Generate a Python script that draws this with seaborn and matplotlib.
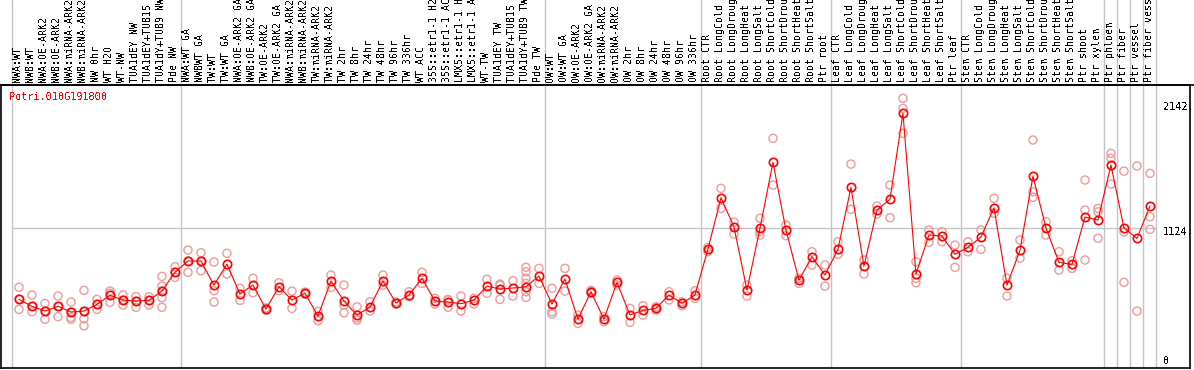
import numpy as np
import pandas as pd
import seaborn as sns
import matplotlib.pyplot as plt
from matplotlib.lines import Line2D

gene = "Potri.010G191800"

samples = [
    "NWA:WT", "NWB:WT", "NWA:OE-ARK2", "NWB:OE-ARK2", "NWA:miRNA-ARK2", "NWB:miRNA-ARK2",
    "NW 0hr", "WT H2O", "WT-NW", "TUA1dEY NW", "TUA1dEY+TUB15 NW", "TUA1dY+TUB9 NW", "Pde NW",
    "NWA:WT GA", "NWBWT GA", "TW:WT", "TW:WT GA", "NWA:OE-ARK2 GA", "NWB:OE-ARK2 GA",
    "TW:OE-ARK2", "TW:OE-ARK2 GA", "NWA:miRNA-ARK2", "NWB:miRNA-ARK2", "TW:miRNA-ARK2",
    "TW:miRNA-ARK2", "TW 2hr", "TW 8hr", "TW 24hr", "TW 48hr", "TW 96hr", "TW 336hr", "WT ACC",
    "35S::etr1-1 H2O", "35S::etr1-1 ACC", "LMX5::etr1-1 H2O", "LMX5::etr1-1 ACC", "WT-TW",
    "TUA1dEY TW", "TUA1dEY+TUB15 TW", "TUA1dY+TUB9 TW", "Pde TW",
    "OW:WT", "OW:WT GA", "OW:OE-ARK2", "OW:OE-ARK2 GA", "OW:miRNA-ARK2", "OW:miRNA-ARK2",
    "OW 2hr", "OW 8hr", "OW 24hr", "OW 48hr", "OW 96hr", "OW 336hr",
    "Root CTR", "Root LongCold", "Root LongDrought", "Root LongHeat", "Root LongSalt",
    "Root ShortCold", "Root ShortDrought", "Root ShortHeat", "Root ShortSalt", "Ptr root",
    "Leaf CTR", "Leaf LongCold", "Leaf LongDrought", "Leaf LongHeat", "Leaf LongSalt",
    "Leaf ShortCold", "Leaf ShortDrought", "Leaf ShortHeat", "Leaf ShortSalt", "Ptr leaf",
    "Stem CTR", "Stem LongCold", "Stem LongDrought", "Stem LongHeat", "Stem LongSalt",
    "Stem ShortCold", "Stem ShortDrought", "Stem ShortHeat", "Stem ShortSalt", "Ptr shoot",
    "Ptr xylem", "Ptr phloem", "Ptr fiber", "Ptr vessel", "Ptr fiber vessel",
]

means = [
    496, 434, 392, 434, 383, 392, 451, 531, 489, 480, 487, 569, 735,
    835, 835, 622, 808, 543, 622, 410, 607, 489, 551, 348, 658, 480, 357, 427,
    658, 463, 534, 682, 480, 472, 457, 489, 613, 587, 596, 607, 702,
    454, 675, 321, 563, 321, 646, 357, 398, 416, 534, 460, 534,
    941, 1395, 1138, 578, 1124, 1708, 1109, 666, 873, 711,
    938, 1487, 790, 1286, 1381, 2142, 720, 1065, 1056, 894,
    956, 1047, 1306, 622, 929, 1587, 1127, 823, 805, 1224, 1198,
    1684, 1127, 1035, 1321,
]

reps = [
    [602, 498, 407], [534, 434, 386], [460, 392, 319], [525, 434, 342],
    [472, 383, 336, 319], [575, 392, 324, 262], [496, 451, 407], [569, 549, 469],
    [534, 490, 445], [519, 480, 425], [519, 487, 445], [699, 613, 569, 510, 425],
    [784, 735, 690],
    [932, 835, 735], [908, 835, 749], [826, 572, 472], [903, 720], [593, 487],
    [682, 554], [420, 410, 400], [643, 572], [569, 416], [560, 540], [389, 306],
    [711, 602], [622, 445, 377], [430, 330, 312], [474, 392], [711, 622], [472, 454],
    [563, 519], [735, 637], [505, 454], [495, 490, 425], [525, 392], [505, 454],
    [673, 549], [631, 620, 496], [660, 525], [779, 740, 682, 637, 563, 513], [770, 637],
    [593, 386, 366], [770, 569], [357, 283], [575, 563, 550], [342, 297], [667, 622],
    [416, 292], [439, 357], [430, 401], [563, 490], [474, 439], [572, 505],
    [956, 917], [1478, 1301], [1180, 1074], [622, 525], [1213, 1095, 1065],
    [1921, 1507], [1153, 1059], [682, 637], [917, 799], [799, 613],
    [1006, 894], [1693, 1292], [844, 720], [1322, 1251], [1507, 1218],
    [2275, 2186, 1965], [829, 682, 643], [1109, 1000], [1094, 1006], [976, 779],
    [1006, 917], [1109, 938], [1390, 1257], [682, 525], [1021, 859],
    [1906, 1448, 1399], [1183, 1065], [917, 755], [837, 770], [1552, 1286, 844],
    [1300, 1270, 1036], [1788, 1744, 1516], [1631, 1094, 646], [1676, 392],
    [1611, 1227, 1115],
]

group_edges = [-0.5, 12.5, 40.5, 52.5, 62.5, 72.5, 83.5, 84.5, 85.5, 86.5, 87.5]
ref_level = 1124
tick_values = [2142, 1124, 0]
tick_texts = ["2142.", "1124.", "0"]
tick_shift = [6, -4, -6]

sns.set_style("white")
plt.rcParams["font.family"] = ["DejaVu Sans Mono"]
plt.rcParams["text.antialiased"] = False

pos = np.arange(len(samples))
rep_df = pd.DataFrame(
    [(i, v) for i, vals in enumerate(reps) for v in vals], columns=["pos", "value"]
)
mean_df = pd.DataFrame({"pos": pos, "value": means})

W, H = 1194, 370
fig = plt.figure(figsize=(W / 100, H / 100), dpi=100)
ax = fig.add_axes([1 / W, (H - 368) / H, 1189 / W, (368 - 85) / H])
lab = fig.add_axes([1 / W, (H - 85) / H, 1189 / W, 85 / H], sharex=ax)

grey = "#c4c4c4"
for e in group_edges:
    ax.axvline(e, color=grey, lw=1, zorder=0)
    lab.axvline(e, color=grey, lw=1, zorder=0)
ax.hlines(ref_level, group_edges[0], group_edges[-1], color=grey, lw=1, zorder=0)

sns.scatterplot(data=rep_df, x="pos", y="value", ax=ax, marker="o", s=34,
                facecolor="none", edgecolor="#f09a9a", linewidth=1, zorder=2, legend=False)
sns.lineplot(data=mean_df, x="pos", y="value", ax=ax, color="red", lw=0.8,
             marker="o", markersize=6, markerfacecolor="none", markeredgecolor="red",
             markeredgewidth=1.2, zorder=3, legend=False)

ax.set_xlim(-1.38, 90.08)
ax.set_ylim(-112, 2393)
ax.set_xticks([])
ax.set_yticks([])
ax.set_xlabel("")
ax.set_ylabel("")
for s in ax.spines.values():
    s.set_color("black")
    s.set_linewidth(1.2)

for v, t, dy in zip(tick_values, tick_texts, tick_shift):
    ax.annotate(t, xy=(88.0, v), xytext=(0, dy), textcoords="offset pixels",
                ha="left", va="center", fontsize=7.3, color="black")

ax.text(0.007, 0.957, gene, transform=ax.transAxes, color="red",
        fontsize=7.3, ha="left", va="center")

lab.set_ylim(0, 1)
lab.axis("off")
for i, name in zip(pos, samples):
    lab.text(i - 0.1, 0.03, name, rotation=90, ha="center", va="bottom",
             fontsize=7.1, color="black")

fig.add_artist(Line2D([0, 1], [(H - 85) / H] * 2, color="black", lw=1.2))

fig.savefig("out.png", dpi=100)
